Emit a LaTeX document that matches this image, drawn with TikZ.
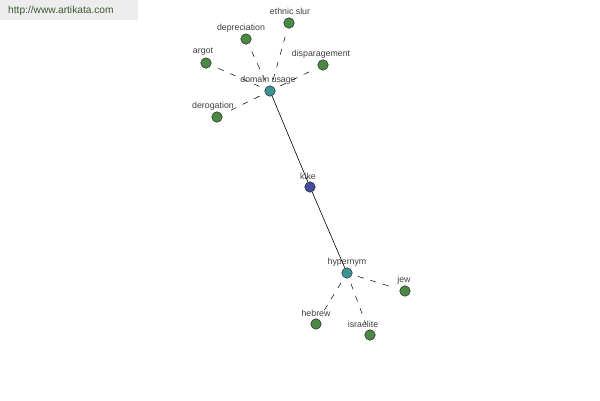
\documentclass[tikz,border=0pt]{standalone}
\usepackage{fontspec}
\setmainfont{Liberation Sans}
\definecolor{leafc}{HTML}{4A8A45}
\definecolor{hubc}{HTML}{3E9494}
\definecolor{corec}{HTML}{444C9E}
\definecolor{wmc}{HTML}{3A5A30}
\begin{document}
\begin{tikzpicture}[x=1pt,y=-1pt,
  dot/.style={circle,draw=black!85,line width=0.5pt,minimum size=10.5pt,inner sep=0pt},
  leaf/.style={dot,fill=leafc},
  hub/.style={dot,fill=hubc},
  core/.style={dot,fill=corec},
  lbl/.style={font=\fontsize{8.8}{9}\selectfont,text=black!75,inner sep=0pt},
  dashedge/.style={dashed,dash pattern=on 6pt off 7pt,line width=0.5pt,shorten <=6pt,shorten >=6pt},
  solidedge/.style={line width=0.6pt}]
\useasboundingbox (0,0) rectangle (600,400);
\fill[white] (0,0) rectangle (600,400);
\fill[black!7] (0,0) rectangle (138,20);
\node[anchor=west,font=\fontsize{10.2}{12}\selectfont,text=wmc,inner sep=0pt] (wm) at (8,11) {http://www.artikata.com};

\node[hub] (du) at (270,91) {};
\node[leaf] (es) at (289,23) {};
\node[leaf] (dep) at (246,39) {};
\node[leaf] (arg) at (206,63) {};
\node[leaf] (disp) at (323,65) {};
\node[leaf] (der) at (217,117) {};
\node[core] (kike) at (310,187) {};
\node[hub] (hyp) at (347,273) {};
\node[leaf] (jew) at (405,291) {};
\node[leaf] (heb) at (316,324) {};
\node[leaf] (isr) at (370,335) {};

\draw[solidedge] (du) -- (kike);
\draw[solidedge] (kike) -- (hyp);
\foreach \n in {es,dep,arg,disp,der} \draw[dashedge] (du) -- (\n);
\foreach \n in {jew,heb,isr} \draw[dashedge] (hyp) -- (\n);

\node[lbl] (ldu) at (268,80) {domain usage};
\node[lbl] (les) at (290,11) {ethnic slur};
\node[lbl] (ldep) at (241,28) {depreciation};
\node[lbl] (larg) at (203,52) {argot};
\node[lbl] (ldisp) at (321,54) {disparagement};
\node[lbl] (lder) at (213,106) {derogation};
\node[lbl] (lkike) at (308,176) {kike};
\node[lbl] (lhyp) at (347,262) {hypernym};
\node[lbl] (ljew) at (404,280) {jew};
\node[lbl] (lheb) at (316,313) {hebrew};
\node[lbl] (lisr) at (363,324) {israelite};
\end{tikzpicture}
\end{document}
